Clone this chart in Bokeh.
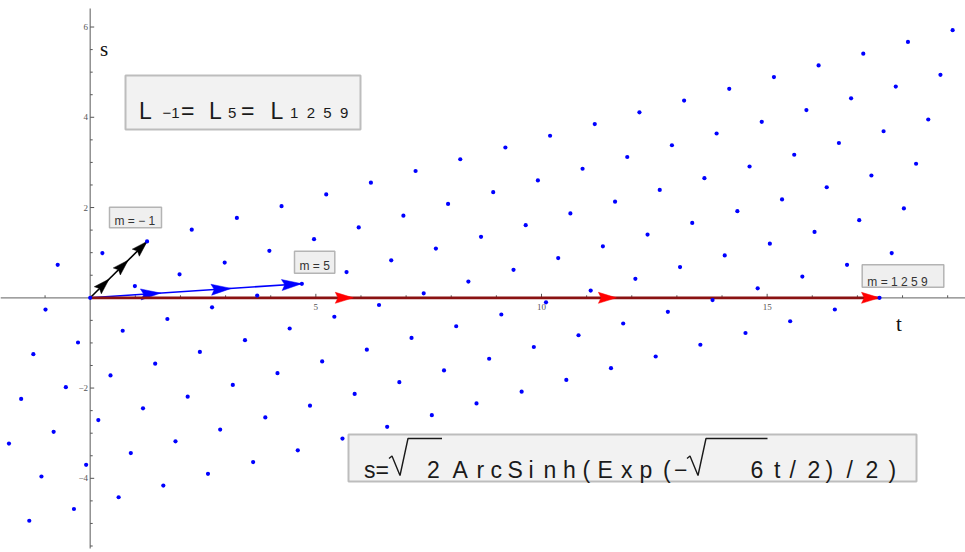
from bokeh.plotting import figure
from bokeh.models import Range1d
from bokeh.embed import file_html
from bokeh.resources import INLINE
from bokeh.core.properties import value
import math

# ---------------- data ----------------
# lattice dots, one list per row of the lattice (t and s coordinates)
row_m1_t = [-0.72, 0.27, 1.26, 2.25, 3.25, 4.24, 5.23, 6.22, 7.21, 8.20, 9.20, 10.19, 11.18, 12.17, 13.16, 14.16, 15.15, 16.14, 17.13, 18.12, 19.11]
row_m1_s = [0.73, 0.99, 1.25, 1.51, 1.77, 2.03, 2.29, 2.55, 2.81, 3.07, 3.33, 3.59, 3.85, 4.11, 4.37, 4.63, 4.89, 5.15, 5.41, 5.67, 5.93]
row_0_t = [-0.99, 0.00, 0.99, 1.98, 2.98, 3.97, 4.96, 5.95, 6.94, 7.93, 8.93, 9.92, 10.91, 11.90, 12.89, 13.88, 14.88, 15.87, 16.86, 17.85, 18.84]
row_0_s = [-0.26, 0.00, 0.26, 0.52, 0.78, 1.04, 1.30, 1.56, 1.82, 2.08, 2.34, 2.60, 2.86, 3.12, 3.38, 3.64, 3.90, 4.16, 4.42, 4.68, 4.94]
row_1_t = [-1.26, -0.27, 0.72, 1.71, 2.70, 3.70, 4.69, 5.68, 6.67, 7.66, 8.66, 9.65, 10.64, 11.63, 12.62, 13.61, 14.61, 15.60, 16.59, 17.58, 18.57]
row_1_s = [-1.25, -0.99, -0.73, -0.47, -0.21, 0.05, 0.31, 0.57, 0.83, 1.09, 1.35, 1.61, 1.87, 2.13, 2.39, 2.65, 2.91, 3.17, 3.43, 3.69, 3.95]
row_2_t = [-1.53, -0.54, 0.45, 1.44, 2.43, 3.43, 4.42, 5.41, 6.40, 7.39, 8.38, 9.38, 10.37, 11.36, 12.35, 13.34, 14.34, 15.33, 16.32, 17.31, 18.30]
row_2_s = [-2.24, -1.98, -1.72, -1.46, -1.20, -0.94, -0.68, -0.42, -0.16, 0.10, 0.36, 0.62, 0.88, 1.14, 1.40, 1.66, 1.92, 2.18, 2.45, 2.71, 2.97]
row_3_t = [-1.80, -0.81, 0.18, 1.17, 2.16, 3.16, 4.15, 5.14, 6.13, 7.12, 8.11, 9.11, 10.10, 11.09, 12.08, 13.07, 14.06, 15.06, 16.05, 17.04, 18.03]
row_3_s = [-3.23, -2.97, -2.71, -2.45, -2.19, -1.93, -1.67, -1.41, -1.15, -0.89, -0.63, -0.37, -0.10, 0.16, 0.42, 0.68, 0.94, 1.20, 1.46, 1.72, 1.98]
row_4_t = [-1.08, -0.09, 0.90, 1.89, 2.88, 3.88, 4.87, 5.86, 6.85, 7.84, 8.84, 9.83, 10.82, 11.81, 12.80, 13.79, 14.79, 15.78, 16.77, 17.76]
row_4_s = [-3.96, -3.70, -3.44, -3.18, -2.92, -2.65, -2.39, -2.13, -1.87, -1.61, -1.35, -1.09, -0.83, -0.57, -0.31, -0.05, 0.21, 0.47, 0.73, 0.99]
row_5_t = [-1.35, -0.36, 0.63, 1.62, 2.61, 3.61, 4.60, 5.59, 6.58, 7.57, 8.56, 9.56, 10.55, 11.54, 12.53, 13.52, 14.52, 15.51, 16.50, 17.49]
row_5_s = [-4.94, -4.68, -4.42, -4.16, -3.90, -3.64, -3.38, -3.12, -2.86, -2.60, -2.34, -2.08, -1.82, -1.56, -1.30, -1.04, -0.78, -0.52, -0.26, 0.00]

# the three vectors (end points), drawn from the origin
arrow_labels = ["m = \u2212 1", "m = 5", "m = 1 2 5 9"]
arrow_t = [1.262, 4.688, 17.49]
arrow_s = [1.249, 0.312, 0.0]

# axes ticks
x_major_ticks = [5, 10, 15]
x_tick_labels = ["5", "10", "15"]
x_minor_ticks = [-1, 1, 2, 3, 4, 6, 7, 8, 9, 11, 12, 13, 14, 16, 17, 18, 19]
y_major_ticks = [-4, -2, 2, 4, 6]
y_tick_labels = ["\u22124", "\u22122", "2", "4", "6"]
y_minor_ticks = [-5.5, -5, -4.5, -3.5, -3, -2.5, -1.5, -1, -0.5, 0.5, 1, 1.5, 2.5, 3, 3.5, 4.5, 5, 5.5]
x_axis_label = "t"
y_axis_label = "s"

# ---------------- layout helpers (page pixels -> data) ----------------
PX0, PY0, SC = 89.7, 297.3, 45.13
def T(x):
    return (x - PX0) / SC
def S(y):
    return (PY0 - y) / SC
def L(px):
    return px / SC

SANS = value("Liberation Sans")
SERIF = value("Liberation Serif")
NB = "\u00a0"

p = figure(width=965, height=552,
           x_range=Range1d(T(0), T(965)), y_range=Range1d(S(552), S(0)),
           output_backend="svg", toolbar_location=None,
           x_axis_type=None, y_axis_type=None, min_border=0)
p.outline_line_color = None
p.background_fill_color = "white"
p.border_fill_color = "white"

# ---------------- axes ----------------
axis_col = "#808080"
p.segment(x0=[T(0)], x1=[T(965)], y0=[0], y1=[0], line_color=axis_col, line_width=1.3)
p.segment(x0=[0], x1=[0], y0=[S(8)], y1=[S(548)], line_color=axis_col, line_width=1.3)

tick_col = "#555555"
p.segment(x0=x_minor_ticks, x1=x_minor_ticks, y0=[0]*len(x_minor_ticks),
          y1=[L(2.5)]*len(x_minor_ticks), line_color=tick_col, line_width=1)
p.segment(x0=x_major_ticks, x1=x_major_ticks, y0=[0]*len(x_major_ticks),
          y1=[L(4)]*len(x_major_ticks), line_color=tick_col, line_width=1)
p.segment(x0=[0]*len(y_minor_ticks), x1=[L(2.5)]*len(y_minor_ticks),
          y0=y_minor_ticks, y1=y_minor_ticks, line_color=tick_col, line_width=1)
p.segment(x0=[0]*len(y_major_ticks), x1=[L(4)]*len(y_major_ticks),
          y0=y_major_ticks, y1=y_major_ticks, line_color=tick_col, line_width=1)

p.text(x=x_major_ticks, y=[S(306)]*len(x_major_ticks), text=x_tick_labels,
       text_font=SERIF, text_font_size="9px", text_color="#555555",
       text_align="center", text_baseline="middle")
p.text(x=[T(87.5)]*len(y_major_ticks), y=y_major_ticks, text=y_tick_labels,
       text_font=SERIF, text_font_size="9px", text_color="#555555",
       text_align="right", text_baseline="middle")

p.text(x=[T(895.5)], y=[S(323.5)], text=[x_axis_label], text_font=SERIF,
       text_font_size="21px", text_color="#111111", text_baseline="alphabetic")
p.text(x=[T(99.5)], y=[S(48.5)], text=[y_axis_label], text_font=SERIF,
       text_font_size="21px", text_color="#111111", text_baseline="alphabetic")

# ---------------- arrows ----------------
line_cols = ["#000000", "#0000ff", "#8a1212"]
head_cols = ["#000000", "#0000ff", "#ff0000"]
line_ws = [1.6, 1.6, 2.8]
head_len = [16, 20, 18]
head_hw = [5.0, 5.5, 5.5]
for i in range(3):
    vt, vs = arrow_t[i], arrow_s[i]
    p.line([0, vt], [0, vs], line_color=line_cols[i], line_width=line_ws[i])
    norm = math.hypot(vt, vs)
    dt, ds = vt / norm, vs / norm
    nt, ns = -ds, dt
    hl, hw = L(head_len[i]), L(head_hw[i])
    xs, ys = [], []
    for j in (1, 2, 3):
        tt, ts = vt * j / 3, vs * j / 3
        xs.append([tt, tt - hl * dt + hw * nt, tt - 0.85 * hl * dt, tt - hl * dt - hw * nt])
        ys.append([ts, ts - hl * ds + hw * ns, ts - 0.85 * hl * ds, ts - hl * ds - hw * ns])
    p.patches(xs, ys, fill_color=head_cols[i], line_color=head_cols[i], line_width=0.5)

# ---------------- lattice dots ----------------
all_t = row_m1_t + row_0_t + row_1_t + row_2_t + row_3_t + row_4_t + row_5_t
all_s = row_m1_s + row_0_s + row_1_s + row_2_s + row_3_s + row_4_s + row_5_s
p.scatter(all_t, all_s, size=4.2, fill_color="#0000ff", line_color=None)

# ---------------- vector labels ----------------
box_fill, box_line = "#efefef", "#b4b4b4"
lab_boxes = [(109, 206.7, 161, 227.3), (294, 250.7, 334.3, 272.7), (861.7, 264.3, 943.3, 286.7)]
lab_pos = [(114.0, 220.8), (299.0, 265.8), (866.8, 281.8)]
p.quad(left=[T(b[0]) for b in lab_boxes], right=[T(b[2]) for b in lab_boxes],
       top=[S(b[1]) for b in lab_boxes], bottom=[S(b[3]) for b in lab_boxes],
       fill_color=box_fill, line_color=box_line, line_width=1.5)
p.text(x=[T(q[0]) for q in lab_pos], y=[S(q[1]) for q in lab_pos],
       text=[t.replace(" ", NB) for t in arrow_labels],
       text_font=SANS, text_font_size="12px", text_color="#333333",
       text_baseline="alphabetic", text_align="left")

# ---------------- L box ----------------
p.quad(left=[T(125)], right=[T(360)], top=[S(75)], bottom=[S(129)],
       fill_color="#f2f2f2", line_color="#bdbdbd", line_width=2)
big = [("L", 138.5), ("=", 180.5), ("L", 208.5), ("=", 240.5), ("L", 270.0)]
p.text(x=[T(q[1]) for q in big], y=[S(110)] * len(big), text=[q[0] for q in big],
       text_font=SANS, text_font_size="23px", text_color="#1a1a1a",
       text_baseline="alphabetic", text_align="left")
subs = [("\u22121", 162.0), ("5", 227.5), (("1 2 5 9").replace(" ", NB * 2), 289.5)]
p.text(x=[T(q[1]) for q in subs], y=[S(112)] * len(subs), text=[q[0] for q in subs],
       text_font=SANS, text_font_size="15px", text_color="#1a1a1a",
       text_baseline="alphabetic", text_align="left")

# ---------------- formula box ----------------
p.quad(left=[T(348)], right=[T(916)], top=[S(434)], bottom=[S(481)],
       fill_color="#f2f2f2", line_color="#bdbdbd", line_width=2)
ftoks = [("s=", 363.5), ("2", 426.5), ("A", 452), ("r", 476), ("c", 490), ("S", 507),
         ("i", 528), ("n", 543), ("h", 562.5), ("(", 582), ("E", 597), ("x", 620.5),
         ("p", 639), ("(", 662.5), ("\u2212", 673.5), ("6", 750), ("t", 773.5),
         ("/", 789), ("2", 807), (")", 825), ("/", 846), ("2", 865), (")", 888)]
p.text(x=[T(q[1]) for q in ftoks], y=[S(469)] * len(ftoks), text=[q[0] for q in ftoks],
       text_font=SANS, text_font_size="23px", text_color="#1a1a1a",
       text_baseline="alphabetic", text_align="left")
# radical signs drawn as strokes, with their bars over the radicands
rad_x0 = [388.5, 686.5]
rad_x1 = [441.5, 767.0]
rxs, rys = [], []
for x0, x1 in zip(rad_x0, rad_x1):
    rxs.append([T(x0), T(x0 + 3), T(x0 + 11), T(x0 + 19), T(x1)])
    rys.append([S(458), S(455.5), S(475), S(438), S(438)])
p.multi_line(rxs, rys, line_color="#1a1a1a", line_width=1.4)

open("out.html", "w").write(file_html(p, INLINE))
